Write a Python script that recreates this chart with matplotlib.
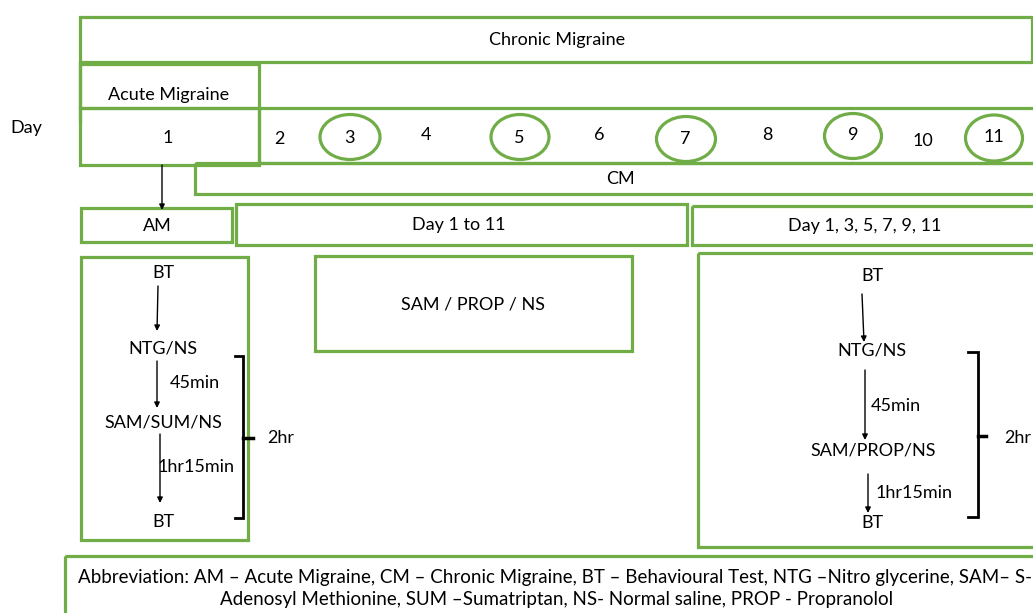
import matplotlib
matplotlib.use("Agg")
import matplotlib.pyplot as plt
from matplotlib.patches import Rectangle, Ellipse
from matplotlib import font_manager

# ---------------- data (labels) ----------------
title_top = "Chronic Migraine"
acute_label = "Acute Migraine"
day_word = "Day"
first_day = "1"
day_labels = ["2", "3", "4", "5", "6", "7", "8", "9", "10", "11"]
circled_days = ["3", "5", "7", "9", "11"]
cm_label = "CM"
group_labels = ["AM", "Day 1 to 11", "Day 1, 3, 5, 7, 9, 11"]
middle_treatment = "SAM / PROP / NS"
am_steps = ["BT", "NTG/NS", "SAM/SUM/NS", "BT"]
cm_steps = ["BT", "NTG/NS", "SAM/PROP/NS", "BT"]
intervals = ["45min", "1hr15min"]
total_time = "2hr"
abbrev_lines = [
    "Abbreviation: AM \u2013 Acute Migraine, CM \u2013 Chronic Migraine, BT \u2013 Behavioural Test, NTG \u2013Nitro glycerine, SAM\u2013 S-",
    "Adenosyl Methionine, SUM \u2013Sumatriptan, NS- Normal saline, PROP - Propranolol",
]

# ---------------- layout (pixels) ----------------
W, H = 1033, 613
GREEN = "#70AD47"
LW = 2.3

names = {f.name for f in font_manager.fontManager.ttflist}
FONT = "Lato" if "Lato" in names else "DejaVu Sans"
plt.rcParams["font.family"] = [FONT, "DejaVu Sans"]

fig = plt.figure(figsize=(W / 100, H / 100), dpi=100)
ax = fig.add_axes([0, 0, 1, 1])
ax.set_xlim(0, W)
ax.set_ylim(H, 0)
ax.axis("off")

FS = 13


def box(x0, y0, x1, y1, lw=LW):
    ax.add_patch(Rectangle((x0, y0), x1 - x0, y1 - y0, fill=False,
                           edgecolor=GREEN, lw=lw, clip_on=False))


def txt(x, y, s, fs=FS, ha="center", **kw):
    ax.text(x, y, s, ha=ha, va="center", fontsize=fs, color="black", **kw)


def arrow(x0, y0, x1, y1):
    ax.annotate("", xy=(x1, y1), xytext=(x0, y0),
                arrowprops=dict(arrowstyle="-|>", lw=1.0, color="black",
                                mutation_scale=8, shrinkA=0, shrinkB=0))


def bracket(x, y0, y1, tick_in, tick_out, ymid):
    ax.plot([tick_in, x, x, tick_in], [y0, y0, y1, y1], color="black", lw=2,
            solid_joinstyle="miter")
    ax.plot([x, tick_out], [ymid, ymid], color="black", lw=2.5)


# top structure
box(80, 17, 1032, 62)
txt(557, 40, title_top)
ax.plot([80, 80], [62, 123], color=GREEN, lw=LW)
box(80, 64, 259, 108)
txt(169, 95, acute_label)
box(80, 108, 259, 165)
txt(168, 138, first_day)
box(259, 108, 1040, 163)
box(195, 163, 1040, 194)
txt(620, 179, cm_label)
txt(26, 128, day_word)

day_x = [279, 349, 426, 519, 599, 685, 767, 853, 923, 994]
day_y = [139, 138, 135, 138, 135, 139, 135, 135, 141, 137]
circ_geo = {"3": (350, 137, 60, 45), "5": (520, 137, 58, 45),
            "7": (686, 139, 59, 45), "9": (853, 136, 57, 45),
            "11": (994, 138, 57, 46)}
for lab, x, y in zip(day_labels, day_x, day_y):
    txt(x, y, lab)
    if lab in circled_days:
        cx, cy, w, h = circ_geo[lab]
        ax.add_patch(Ellipse((cx, cy), w, h, fill=False, edgecolor=GREEN, lw=LW))

# arrow from day 1 to AM
arrow(162, 165, 162, 210)

# group boxes
group_geo = [(81, 208, 232, 242), (236, 204, 687, 245), (692, 206, 1040, 245)]
group_txt = [(157, 226), (459, 225), (865, 226)]
for lab, g, t in zip(group_labels, group_geo, group_txt):
    box(*g)
    txt(*t, lab)

# left protocol
box(81, 257, 248, 540)
left_pos = [(163, 273), (163, 349), (163, 423), (163, 522)]
for lab, p in zip(am_steps, left_pos):
    txt(*p, lab)
arrow(158, 286, 157, 331)
arrow(157, 361, 157, 408)
arrow(160, 434, 160, 503)
txt(170, 383, intervals[0], ha="left")
txt(158, 467, intervals[1], ha="left")
bracket(243, 356, 518, 235, 253, 438)
txt(267, 438, total_time, ha="left")

# middle treatment box
box(315, 256, 632, 351)
txt(473, 304, middle_treatment)

# right protocol
box(698, 253, 1040, 547)
right_pos = [(872, 276), (872, 350), (873, 450), (872, 523)]
for lab, p in zip(cm_steps, right_pos):
    txt(*p, lab)
arrow(862, 294, 864, 342)
arrow(865, 370, 865, 440)
arrow(868, 474, 868, 513)
txt(871, 406, intervals[0], ha="left")
txt(876, 493, intervals[1], ha="left")
bracket(978, 352, 517, 968, 986, 436)
txt(1004, 438, total_time, ha="left")

# abbreviation box
box(65, 556, 1040, 620)
ax.text(78, 578, abbrev_lines[0], ha="left", va="center", fontsize=13.5)
ax.text(557, 600, abbrev_lines[1], ha="center", va="center", fontsize=13.5)

fig.savefig("out.png", dpi=100)
